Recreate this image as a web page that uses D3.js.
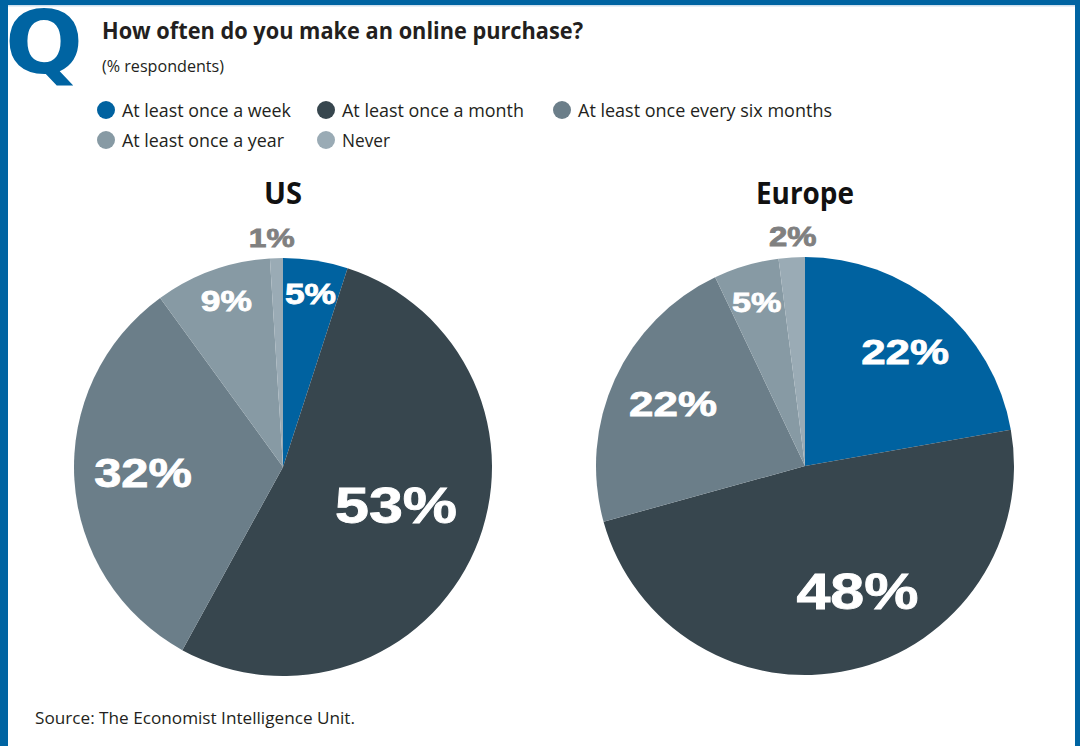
<!DOCTYPE html>
<html>
<head>
<meta charset="utf-8">
<script src="https://cdn.jsdelivr.net/npm/d3@7"></script>
<style>
  html, body { margin: 0; padding: 0; background: #fff; }
  svg { display: block; }
</style>
</head>
<body>
<svg id="chart" width="1080" height="746"></svg>
<script>
// Survey answers, shared by both pies
const categories = [
  "At least once a week",
  "At least once a month",
  "At least once every six months",
  "At least once a year",
  "Never"
];
const regions = ["US", "Europe"];
const usValues = [5, 53, 32, 9, 1];
const europeValues = [22, 48, 22, 5, 2];

// Slice and swatch colours, one per answer
const sliceColors = ["#0062a0", "#37464e", "#6b7e89", "#879aa4", "#9aabb5"];

// Label placement per slice: radius fraction, angle nudge (deg), font size, inside/outside
const labelLayout = {
  US: [
    { k: 0.84, off: 0,   size: 29, inside: true },
    { k: 0.57, off: -5,  size: 50, inside: true },
    { k: 0.67, off: 1.5, size: 40, inside: true },
    { k: 0.84, off: 1,   size: 29, inside: true },
    { k: 1.10, off: -1,  size: 26, inside: false }
  ],
  Europe: [
    { k: 0.73, off: 1,   size: 36, inside: true },
    { k: 0.65, off: -10, size: 50, inside: true },
    { k: 0.70, off: 1,   size: 36, inside: true },
    { k: 0.82, off: 0,   size: 28, inside: true },
    { k: 1.10, off: 0.6, size: 27, inside: false }
  ]
};

const W = 1080, H = 746;
const BLUE = "#0064a2";
const svg = d3.select("#chart");
const bodyFont = "'Open Sans', 'Noto Sans', sans-serif";
const numFont = "'Liberation Sans', Arial, sans-serif";

// squeeze a text node horizontally to a target width
function fitWidth(sel, width) {
  sel.attr("textLength", width).attr("lengthAdjust", "spacingAndGlyphs");
}

// ---- frame ----
svg.append("rect").attr("width", W).attr("height", H).attr("fill", "#fff");
svg.append("rect").attr("x", 0).attr("y", 0).attr("width", W).attr("height", 5).attr("fill", BLUE);
svg.append("rect").attr("x", 0).attr("y", 5).attr("width", W).attr("height", 1.5).attr("fill", "#cfe0ee");
svg.append("rect").attr("x", 0).attr("y", 0).attr("width", 8).attr("height", H).attr("fill", BLUE);
svg.append("rect").attr("x", W - 5).attr("y", 0).attr("width", 5).attr("height", H).attr("fill", BLUE);

// big "Q" badge
svg.append("text")
  .attr("x", 5).attr("y", 73)
  .attr("font-family", "'DejaVu Sans', sans-serif")
  .attr("font-weight", "bold")
  .attr("font-size", 88)
  .attr("fill", BLUE)
  .text("Q")
  .call(fitWidth, 78);

// ---- headings ----
svg.append("text")
  .attr("x", 102).attr("y", 39)
  .attr("font-family", bodyFont).attr("font-weight", "bold")
  .attr("font-size", 23).attr("fill", "#231f20")
  .text("How often do you make an online purchase?")
  .call(fitWidth, 481);

svg.append("text")
  .attr("x", 102).attr("y", 72)
  .attr("font-family", bodyFont)
  .attr("font-size", 16).attr("fill", "#231f20")
  .text("(% respondents)")
  .call(fitWidth, 122);

// ---- legend ----
const legendPos = [
  { cx: 106, cy: 110, w: 169 },
  { cx: 326, cy: 110, w: 182 },
  { cx: 562, cy: 110, w: 254 },
  { cx: 106, cy: 140, w: 162 },
  { cx: 326, cy: 140, w: 48 }
];
const legend = svg.append("g").selectAll("g")
  .data(categories)
  .join("g")
  .attr("transform", (d, i) => `translate(${legendPos[i].cx},${legendPos[i].cy})`);
legend.append("circle").attr("r", 9).attr("fill", (d, i) => sliceColors[i]);
legend.append("text")
  .attr("x", 16).attr("y", 7)
  .attr("font-family", bodyFont).attr("font-size", 19).attr("fill", "#231f20")
  .text(d => d)
  .each(function (d, i) { d3.select(this).call(fitWidth, legendPos[i].w); });

// ---- pies ----
const R = 209;
const pieCenters = { US: [283, 467], Europe: [805, 466] };
const headingWidths = { US: 38, Europe: 98 };
const seriesByRegion = { US: usValues, Europe: europeValues };

const pie = d3.pie().sort(null).value(d => d.value);
const arc = d3.arc().innerRadius(0).outerRadius(R);

regions.forEach(region => {
  const [cx, cy] = pieCenters[region];
  const rows = seriesByRegion[region].map((v, i) => ({ value: v, cat: categories[i], i }));
  const arcs = pie(rows);
  const g = svg.append("g").attr("transform", `translate(${cx},${cy})`);

  svg.append("text")
    .attr("x", cx).attr("y", 204)
    .attr("text-anchor", "middle")
    .attr("font-family", bodyFont).attr("font-weight", "bold")
    .attr("font-size", 30).attr("fill", "#111")
    .text(region)
    .call(fitWidth, headingWidths[region]);

  g.selectAll("path")
    .data(arcs)
    .join("path")
    .attr("d", arc)
    .attr("fill", d => sliceColors[d.data.i]);

  const layout = labelLayout[region];
  g.selectAll("text.val")
    .data(arcs)
    .join("text")
    .attr("class", "val")
    .attr("transform", d => {
      const L = layout[d.data.i];
      const a = (d.startAngle + d.endAngle) / 2 + L.off * Math.PI / 180;
      const x = Math.sin(a) * R * L.k;
      const y = -Math.cos(a) * R * L.k;
      return `translate(${x},${y}) scale(1.22,1)`;
    })
    .attr("text-anchor", "middle")
    .attr("dy", "0.36em")
    .attr("font-family", numFont).attr("font-weight", "bold")
    .attr("font-size", d => layout[d.data.i].size)
    .attr("fill", d => layout[d.data.i].inside ? "#ffffff" : "#808080")
    .attr("stroke", d => layout[d.data.i].inside ? "#ffffff" : "#808080")
    .attr("stroke-width", 0.8)
    .text(d => d.data.value + "%");
});

// ---- source ----
svg.append("text")
  .attr("x", 35).attr("y", 724)
  .attr("font-family", bodyFont).attr("font-size", 17).attr("fill", "#231f20")
  .text("Source: The Economist Intelligence Unit.")
  .call(fitWidth, 320);
</script>
</body>
</html>
